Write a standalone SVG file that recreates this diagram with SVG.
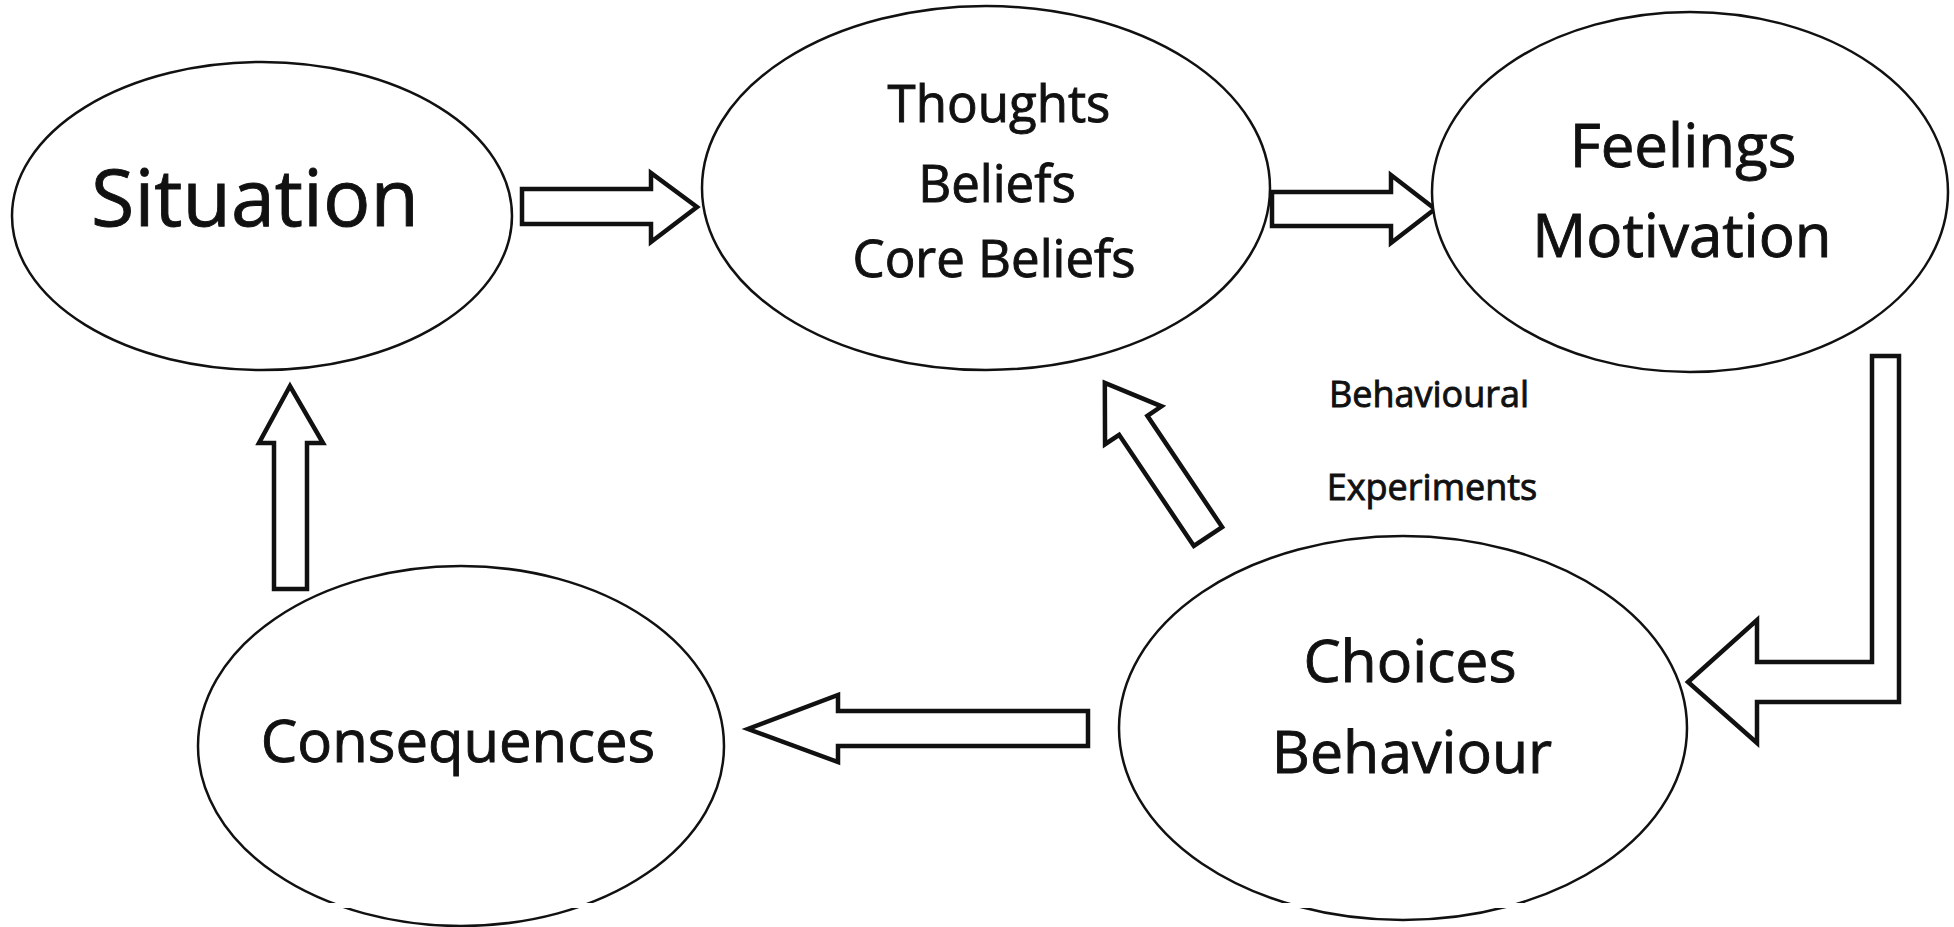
<svg xmlns="http://www.w3.org/2000/svg" width="1954" height="927" viewBox="0 0 1954 927">
<style>
.node ellipse{fill:#fff;stroke:#111;stroke-width:2.5}
.lbl{font-family:"Open Sans","Noto Sans","Liberation Sans",sans-serif;fill:#111;stroke:#111;stroke-width:0.9;text-anchor:middle}
.arrow{fill:#fff;stroke:#111;stroke-width:4.5;stroke-linejoin:miter}
</style>
<rect width="1954" height="927" fill="#fff"/>
<g id="connectors">
<path class="arrow" d="M522,189 L651,189 L651,173 L697,207 L651,242 L651,224 L522,224 Z"/>
<path class="arrow" d="M1272,192 L1391,192 L1391,175 L1435,209 L1391,243 L1391,226 L1272,226 Z"/>
<path class="arrow" d="M1872,356 L1899,356 L1899,702 L1757,702 L1757,743 L1688,682 L1757,620 L1757,662 L1872,662 Z"/>
<path class="arrow" d="M1088,711 L838,711 L838,695 L748,729 L838,762 L838,746 L1088,746 Z"/>
<path class="arrow" d="M274,589 L274,443 L259,443 L290,386 L323,443 L307,443 L307,589 Z"/>
<path class="arrow" transform="translate(1208,536.5) rotate(-123.9)" d="M0,-17 L134,-17 L134,-34 L185,0 L134,34 L134,17 L0,17 Z"/>
</g>
<g id="situation" class="node">
<ellipse cx="262" cy="216" rx="250" ry="154"/>
<text class="lbl" x="255" y="226" font-size="79">Situation</text>
</g>
<g id="thoughts" class="node">
<ellipse cx="986" cy="188" rx="284" ry="182"/>
<text class="lbl" x="999" y="122" font-size="51">Thoughts</text>
<text class="lbl" x="997" y="202" font-size="51">Beliefs</text>
<text class="lbl" x="994" y="277" font-size="51">Core Beliefs</text>
</g>
<g id="feelings" class="node">
<ellipse cx="1690" cy="192" rx="258" ry="180"/>
<text class="lbl" x="1683" y="167" font-size="60">Feelings</text>
<text class="lbl" x="1682" y="257" font-size="60">Motivation</text>
</g>
<g id="choices" class="node">
<ellipse cx="1403" cy="728" rx="284" ry="192"/>
<text class="lbl" x="1410" y="682" font-size="59">Choices</text>
<text class="lbl" x="1412" y="773" font-size="59">Behaviour</text>
</g>
<g id="consequences" class="node">
<ellipse cx="461" cy="746" rx="263" ry="180"/>
<text class="lbl" x="458" y="762" font-size="58">Consequences</text>
</g>
<g id="label-behavioural-experiments">
<text class="lbl" x="1429" y="407" font-size="36">Behavioural</text>
<text class="lbl" x="1432" y="500" font-size="36">Experiments</text>
</g>
<rect x="0" y="903" width="1954" height="5" fill="#fff"/>
</svg>
